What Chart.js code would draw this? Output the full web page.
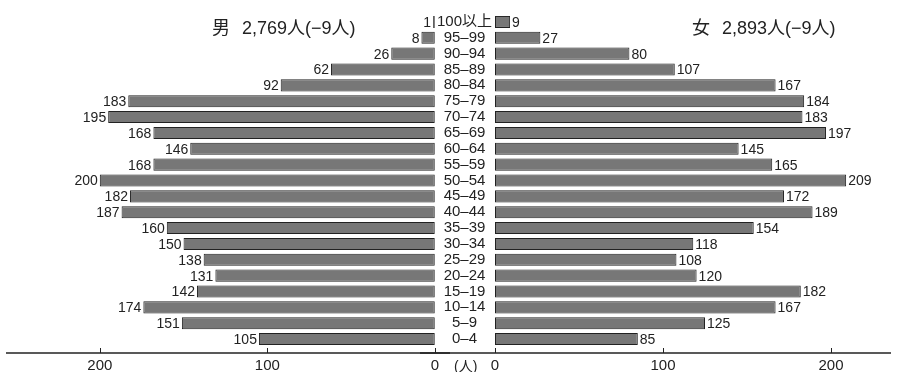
<!DOCTYPE html>
<html>
<head>
<meta charset="utf-8">
<script src="https://cdn.jsdelivr.net/npm/chart.js@4.4.1/dist/chart.umd.min.js"></script>
<style>
  html, body { margin: 0; padding: 0; background: #fff; }
  #wrap { position: relative; width: 900px; height: 372px; overflow: hidden;
          font-family: "Liberation Sans", "Noto Sans CJK JP", sans-serif; color: #222; }
  .cv { position: absolute; top: 0; height: 372px; }
  #cL { left: 0; width: 450px; }
  #cR { left: 420px; width: 480px; }
  .ttl { position: absolute; font-size: 18px; white-space: nowrap; line-height: 1; }
  .gap { margin-left: 12px; }
</style>
</head>
<body>
<div id="wrap">
  <div class="cv" id="cL"><canvas id="left" width="450" height="372"></canvas></div>
  <div class="cv" id="cR"><canvas id="right" width="480" height="372"></canvas></div>
  <div class="ttl" id="tM" style="left:212px; top:19px;">男<span class="gap">2,769人(−9人)</span></div>
  <div class="ttl" id="tF" style="left:692px; top:19px;">女<span class="gap">2,893人(−9人)</span></div>
  <div class="ttl" id="unit" style="left:454px; top:359px; font-size:14px;">(人)</div>
</div>
<script>
const categories = ["100以上","95–99","90–94","85–89","80–84","75–79","70–74","65–69","60–64","55–59","50–54","45–49","40–44","35–39","30–34","25–29","20–24","15–19","10–14","5–9","0–4"];
const maleValues = [1, 8, 26, 62, 92, 183, 195, 168, 146, 168, 200, 182, 187, 160, 150, 138, 131, 142, 174, 151, 105];
const femaleValues = [9, 27, 80, 107, 167, 184, 183, 197, 145, 165, 209, 172, 189, 154, 118, 108, 120, 182, 167, 125, 85];
const tickValues = [0, 100, 200];

const FONT = '"Liberation Sans", "Noto Sans CJK JP", sans-serif';
const INK = '#222';
const BAR_FILL = '#777777';
const BAR_EDGE = '#222222';

// draws value labels, axis line and inward tick marks
function makePlugin(side) {
  return {
    id: 'pyr_' + side,
    afterDatasetsDraw(chart) {
      const ctx = chart.ctx;
      const meta = chart.getDatasetMeta(0);
      const data = chart.data.datasets[0].data;
      ctx.save();
      ctx.font = '14px ' + FONT;
      ctx.fillStyle = INK;
      ctx.textBaseline = 'middle';
      meta.data.forEach((bar, i) => {
        if (side === 'L') {
          ctx.textAlign = 'right';
          ctx.fillText(String(data[i]), bar.x - 2, bar.y + 1);
        } else {
          ctx.textAlign = 'left';
          ctx.fillText(String(data[i]), bar.x + 2, bar.y + 1);
        }
      });
      const xs = chart.scales.x;
      const yLine = chart.chartArea.bottom + 6;
      ctx.strokeStyle = INK;
      ctx.lineWidth = 1.5;
      ctx.beginPath();
      if (side === 'L') { ctx.moveTo(6, yLine); ctx.lineTo(chart.width, yLine); }
      else { ctx.moveTo(0, yLine); ctx.lineTo(chart.chartArea.right, yLine); }
      ctx.stroke();
      ctx.lineWidth = 1;
      tickValues.forEach(v => {
        const px = Math.round(xs.getPixelForValue(v)) + 0.5;
        ctx.beginPath();
        ctx.moveTo(px, yLine);
        ctx.lineTo(px, yLine - 5);
        ctx.stroke();
      });
      ctx.restore();
    }
  };
}

function xAxis(reverse, max) {
  return {
    type: 'linear', reverse: reverse, min: 0, max: max,
    grid: { display: false, drawTicks: false },
    border: { display: false },
    ticks: { stepSize: 100, includeBounds: false, padding: 11, color: INK,
             font: { family: FONT, size: 15, lineHeight: 1 } },
    afterFit(s) { s.height = 25; }
  };
}

function dataset(vals) {
  return [{ data: vals, backgroundColor: BAR_FILL, borderColor: BAR_EDGE, borderWidth: 1,
            borderSkipped: false, barPercentage: 0.76, categoryPercentage: 1.0 }];
}

const common = {
  indexAxis: 'y', responsive: false, animation: false,
  plugins: { legend: { display: false }, tooltip: { enabled: false }, title: { display: false } },
  events: []
};

new Chart(document.getElementById('left'), {
  type: 'bar',
  data: { labels: categories, datasets: dataset(maleValues) },
  options: Object.assign({}, common, {
    layout: { padding: { left: 6, right: 14, top: 14, bottom: 0 } },
    scales: {
      x: xAxis(true, 256),
      y: { type: 'category', display: false }
    }
  }),
  plugins: [makePlugin('L')]
});

new Chart(document.getElementById('right'), {
  type: 'bar',
  data: { labels: categories, datasets: dataset(femaleValues) },
  options: Object.assign({}, common, {
    layout: { padding: { left: 0, right: 9, top: 14, bottom: 0 } },
    scales: {
      x: xAxis(false, 235.7),
      y: {
        type: 'category',
        grid: { display: false, drawTicks: false },
        border: { display: false },
        ticks: { crossAlign: 'center', padding: 3, color: INK, autoSkip: false,
                 font: { family: FONT, size: 15, lineHeight: 1 } },
        afterFit(s) { s.width = 75; }
      }
    }
  }),
  plugins: [makePlugin('R')]
});
</script>
</body>
</html>
